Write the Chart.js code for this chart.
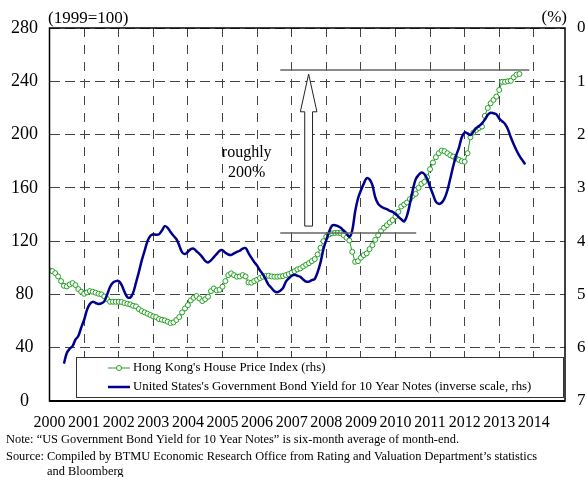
<!DOCTYPE html>
<html><head><meta charset="utf-8">
<script src="https://cdn.jsdelivr.net/npm/chart.js@4"></script>
<style>html,body{margin:0;padding:0;background:#fff;overflow:hidden}</style>
</head><body>
<canvas id="c" width="585" height="477"></canvas>
<script>
// ---- data ----
const years = [2000,2001,2002,2003,2004,2005,2006,2007,2008,2009,2010,2011,2012,2013,2014];
const leftTicks = [0,40,80,120,160,200,240,280];
const rightTicks = [0,1,2,3,4,5,6,7];

// Hong Kong's House Price Index (1999=100), monthly from Jan 2000
const hpiStartYear = 2000, hpiStartMonth = 0;
const hpi = [
  98,97.5,96,93.5,90,86.5,86,87.5,88.5,87,84,82,
  80.5,81.5,82.5,82,81.3,80.5,80,78.5,76.5,74.5,74.5,74.5,
  74.5,74.3,73.5,73,72.5,71.5,71,69,67.5,66.5,65.5,64.5,
  63.5,63,61.5,61,60.5,59.5,58.5,59,60.8,63,66.5,69.5,
  72,75.5,77.5,78.8,77,75,76.5,78.3,82.5,84.5,83,83.5,
  85.8,90,94.5,95.8,94.5,93.3,93.5,94.5,93.5,89,88.8,90,
  91,92.3,93.3,93.8,94,93.5,93.3,93.3,93.5,93.8,94.5,95.3,
  96.3,97.5,98.8,99.5,101,102.3,103.5,105,106.5,110,115,120,
  123.3,125,125.8,126.2,126.3,126,124.5,122.5,120.5,112,104.5,105,
  107.5,109.5,110.8,114,117,121,124.5,127.5,130,132,134,135.8,
  138.5,142,146,147.5,149,151.5,154,155.5,160,163,164.5,168,
  174,179,183,186,188,187.5,186,184.5,183.5,182,181,180,
  179.6,186,198,201.5,203.5,205,206,214,220,223.5,226,228.5,
  233.5,239.6,239.6,240,240.4,243,245,245.5
];

// US Government Bond Yield for 10 Year Notes (%), 6-month average, monthly from Jun 2000
const yieldStartYear = 2000, yieldStartMonth = 5;
const bondYield = [
  6.30,6.10,6.02,5.97,5.85,5.78,
  5.62,5.48,5.29,5.18,5.14,5.16,5.18,5.17,5.13,5.00,4.86,4.78,
  4.75,4.75,4.82,4.95,5.05,5.06,4.97,4.78,4.58,4.36,4.18,4.00,
  3.90,3.87,3.88,3.87,3.80,3.72,3.75,3.83,3.90,3.96,4.08,4.21,
  4.24,4.20,4.15,4.14,4.19,4.24,4.30,4.37,4.40,4.36,4.30,4.24,
  4.18,4.17,4.22,4.25,4.26,4.23,4.20,4.18,4.14,4.13,4.22,4.31,
  4.39,4.46,4.55,4.62,4.72,4.82,4.88,4.94,4.96,4.93,4.88,4.76,
  4.70,4.65,4.63,4.65,4.67,4.72,4.76,4.76,4.73,4.71,4.58,4.40,
  4.15,3.98,3.82,3.71,3.70,3.72,3.75,3.80,3.85,3.92,3.80,3.45,
  3.20,3.05,2.92,2.82,2.84,2.95,3.18,3.30,3.35,3.38,3.40,3.43,
  3.45,3.49,3.54,3.59,3.63,3.52,3.30,3.04,2.84,2.76,2.71,2.74,
  2.83,2.98,3.12,3.26,3.30,3.28,3.20,3.05,2.83,2.60,2.40,2.25,
  2.05,1.96,1.98,2.01,1.95,1.88,1.84,1.79,1.72,1.63,1.59,1.60,
  1.62,1.70,1.75,1.80,1.90,2.05,2.18,2.30,2.40,2.48,2.56
];

// "roughly 200%" annotation (data units: year, index level)
const bracketStart = 2006.67;
const bracketTopEnd = 2013.87;
const bracketBottomEnd = 2010.6;
const bracketTopLevel = 248.4;
const bracketBottomLevel = 126.1;
const arrowYear = 2007.49;
const arrowBaseLevel = 131.3;
const arrowHeadLevel = 217.1;
const arrowTipLevel = 245.4;
const noteYear = 2005.7;
const noteLevels = [186.5, 171.5];
const noteLines = ['roughly', '200%'];

const legendLabels = ["Hong Kong's House Price Index (rhs)", "United States's Government Bond Yield for 10 Year Notes (inverse scale, rhs)"];
const footLines = [
  'Note: \u201cUS Government Bond Yield for 10 Year Notes\u201d is six-month average of month-end.',
  'Source: Compiled by BTMU Economic Research Office from Rating and Valuation Department\u2019s statistics',
  'and Bloomberg'
];

const FONT = "'Liberation Serif','Times New Roman',serif";
const GREEN = 'rgb(34,160,34)';
const BLUE = 'rgb(0,0,140)';

const hpiPts = hpi.map((v,i)=>({x: hpiStartYear + (hpiStartMonth + i)/12, y: v}));
const yieldPts = bondYield.map((v,i)=>({x: yieldStartYear + (yieldStartMonth + i)/12, y: v}));

const deco = {
  id: 'deco',
  afterDatasetsDraw(chart){
    const {ctx, chartArea:a, scales} = chart;
    const X = scales.x, Y = scales.y;
    ctx.save();
    // bracket lines
    ctx.strokeStyle = '#666'; ctx.lineWidth = 1.5;
    ctx.beginPath();
    ctx.moveTo(X.getPixelForValue(bracketStart), Y.getPixelForValue(bracketTopLevel));
    ctx.lineTo(X.getPixelForValue(bracketTopEnd), Y.getPixelForValue(bracketTopLevel));
    ctx.moveTo(X.getPixelForValue(bracketStart), Y.getPixelForValue(bracketBottomLevel));
    ctx.lineTo(X.getPixelForValue(bracketBottomEnd), Y.getPixelForValue(bracketBottomLevel));
    ctx.stroke();
    // hollow arrow
    const ax = X.getPixelForValue(arrowYear);
    const yb = Y.getPixelForValue(arrowBaseLevel), yh = Y.getPixelForValue(arrowHeadLevel), yt = Y.getPixelForValue(arrowTipLevel);
    const sw = 3.9, hw = 8.3;
    ctx.beginPath();
    ctx.moveTo(ax - sw, yb); ctx.lineTo(ax - sw, yh); ctx.lineTo(ax - hw, yh);
    ctx.lineTo(ax, yt); ctx.lineTo(ax + hw, yh); ctx.lineTo(ax + sw, yh); ctx.lineTo(ax + sw, yb);
    ctx.closePath();
    ctx.fillStyle = '#fff'; ctx.fill();
    ctx.strokeStyle = '#222'; ctx.lineWidth = 1; ctx.stroke();
    // text
    ctx.fillStyle = '#000'; ctx.font = '16px ' + FONT; ctx.textAlign = 'center'; ctx.textBaseline = 'middle';
    noteLines.forEach((t,i)=>ctx.fillText(t, X.getPixelForValue(noteYear), Y.getPixelForValue(noteLevels[i])));
    // legend box
    const lx = a.left + 26.5, ly = a.bottom - 44, lw = a.right - 2 - lx, lh = 40;
    ctx.fillStyle = '#fff'; ctx.fillRect(lx, ly, lw, lh);
    ctx.strokeStyle = '#333'; ctx.lineWidth = 1; ctx.strokeRect(lx + 0.5, ly + 0.5, lw, lh);
    const sx0 = lx + 32, sx1 = lx + 54, tx = lx + 57;
    const r1 = ly + 11, r2 = ly + 30;
    ctx.strokeStyle = GREEN; ctx.lineWidth = 1;
    ctx.beginPath(); ctx.moveTo(sx0, r1); ctx.lineTo(sx1, r1); ctx.stroke();
    ctx.beginPath(); ctx.arc((sx0+sx1)/2, r1, 2.5, 0, Math.PI*2); ctx.fillStyle='#fff'; ctx.fill(); ctx.stroke();
    ctx.strokeStyle = BLUE; ctx.lineWidth = 2.5;
    ctx.beginPath(); ctx.moveTo(sx0, r2); ctx.lineTo(sx1, r2); ctx.stroke();
    ctx.fillStyle = '#000'; ctx.font = '12.8px ' + FONT; ctx.textAlign = 'left'; ctx.textBaseline = 'middle';
    ctx.fillText(legendLabels[0], tx, r1);
    ctx.fillText(legendLabels[1], tx, r2);
    ctx.restore();
  },
  afterDraw(chart){
    const {ctx, chartArea:a} = chart;
    ctx.save();
    ctx.strokeStyle = '#000'; ctx.lineWidth = 1.5;
    ctx.strokeRect(a.left, a.top, a.right - a.left, a.bottom - a.top);
    ctx.lineWidth = 2;
    ctx.beginPath(); ctx.moveTo(a.left, a.bottom); ctx.lineTo(a.right, a.bottom); ctx.stroke();
    ctx.fillStyle = '#000'; ctx.font = '17px ' + FONT; ctx.textBaseline = 'middle';
    ctx.textAlign = 'left'; ctx.fillText('(1999=100)', a.left - 1.5, 18.5);
    ctx.textAlign = 'right'; ctx.fillText('(%)', a.right + 2, 17.5);
    ctx.font = '12.4px ' + FONT; ctx.textAlign = 'left';
    ctx.fillText(footLines[0], 6, 440);
    ctx.fillText(footLines[1], 6, 457);
    ctx.fillText(footLines[2], 47, 472);
    ctx.restore();
  }
};

Chart.defaults.font.family = FONT;
Chart.defaults.color = '#000';

new Chart(document.getElementById('c'), {
  type: 'line',
  data: {
    datasets: [
      { label: legendLabels[0], data: hpiPts, yAxisID: 'y', order: 1,
        borderColor: GREEN, borderWidth: 1, pointRadius: 2.5, pointBorderWidth: 1,
        pointBackgroundColor: '#fff', pointBorderColor: GREEN, tension: 0, fill: false },
      { label: legendLabels[1], data: yieldPts, yAxisID: 'y1', order: 0,
        borderColor: BLUE, borderWidth: 2.5, pointRadius: 0, tension: 0.35, fill: false }
    ]
  },
  options: {
    responsive: false, animation: false, devicePixelRatio: 1,
    layout: { padding: { top: 28, left: 0, right: 0, bottom: 0 } },
    plugins: { legend: { display: false }, tooltip: { enabled: false } },
    scales: {
      x: {
        type: 'linear', min: 2000, max: 2014.9,
        afterBuildTicks: s => { s.ticks = years.map(v => ({ value: v })); },
        afterFit: s => { s.height = 76; },
        grid: { color: '#444', lineWidth: 1, drawTicks: false },
        border: { display: false, dash: [9, 8] },
        ticks: { padding: 12, font: { size: 16 }, color: '#000', maxRotation: 0, autoSkip: false, callback: v => String(v) }
      },
      y: {
        position: 'left', min: 0, max: 280,
        afterBuildTicks: s => { s.ticks = leftTicks.map(v => ({ value: v })); },
        afterFit: s => { s.width = 49.5; },
        grid: { color: '#444', lineWidth: 1, drawTicks: false },
        border: { display: false, dash: [10, 5] },
        ticks: { padding: 11.5, crossAlign: 'center', font: { size: 18 }, color: '#000' }
      },
      y1: {
        position: 'right', min: 0, max: 7, reverse: true,
        afterBuildTicks: s => { s.ticks = rightTicks.map(v => ({ value: v })); },
        afterFit: s => { s.width = 20; },
        grid: { display: false, drawTicks: false },
        border: { display: false },
        ticks: { padding: 12, font: { size: 17 }, color: '#000' }
      }
    }
  },
  plugins: [deco]
});
</script>
</body></html>
